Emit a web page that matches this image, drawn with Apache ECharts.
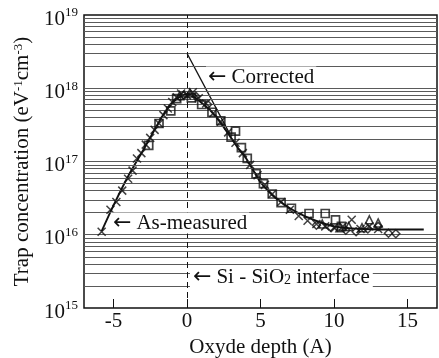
<!DOCTYPE html>
<html><head><meta charset="utf-8">
<script src="https://cdn.jsdelivr.net/npm/echarts@6/dist/echarts.min.js"></script>
<style>html,body{margin:0;padding:0;background:#fff}#c{width:439px;height:358px}</style>
</head><body><div id="c"></div>
<script>
// ---- data ----
var xTickValues = [-5, 0, 5, 10, 15];
var yGridValues = [2e15,3e15,4e15,5e15,6e15,7e15,8e15,9e15,1e16,
  2e16,3e16,4e16,5e16,6e16,7e16,8e16,9e16,1e17,
  2e17,3e17,4e17,5e17,6e17,7e17,8e17,9e17,1e18,
  2e18,3e18,4e18,5e18,6e18,7e18,8e18,9e18];
var fitX = [-5.8,-5,-4,-3,-2,-1.5,-1,-0.5,0,0.5,1,1.5,2,2.5,3,3.5,4,4.5,5,5.5,6,7,8,9,10,11,12,14,16.1];
var fitY = [1.12e16,2.5e16,6.3e16,1.4e17,3.2e17,4.7e17,6.3e17,7.6e17,8.3e17,7.6e17,6.3e17,5.2e17,4.0e17,2.95e17,2.1e17,1.5e17,1.12e17,7.6e16,5.2e16,4.0e16,3.2e16,2.3e16,1.8e16,1.5e16,1.3e16,1.23e16,1.2e16,1.18e16,1.18e16];
var corrX = [0, 2.9];
var corrY = [3.0e18, 2.4e17];
var crossX = [-5.8,-5.2,-4.8,-4.4,-4.0,-3.7,-3.4,-3.1,-2.8,-2.5,-2.2,-1.9,-1.6,-1.3,-1.0,-0.7,-0.4,0.0,0.4,0.8,1.3,1.8,2.3,2.8,3.3,3.8,4.3,4.8,5.3,5.8,6.4,7.0,7.6,8.2,8.8,9.4,10.0,10.6,11.2,11.8,12.4,13.0];
var crossY = [1.1e16,2.2e16,2.8e16,4.0e16,5.8e16,7.5e16,1.1e17,1.3e17,1.7e17,2.1e17,2.7e17,3.3e17,4.3e17,5.3e17,6.5e17,7.5e17,8.5e17,8.0e17,8.8e17,7.3e17,6.2e17,4.6e17,3.5e17,2.5e17,1.8e17,1.3e17,9.0e16,6.5e16,4.8e16,3.6e16,2.8e16,2.2e16,1.8e16,1.55e16,1.4e16,1.3e16,1.25e16,1.3e16,1.6e16,1.2e16,1.3e16,1.2e16];
var squareX = [-2.6,-1.9,-1.1,-0.7,0.3,1.0,1.7,2.3,3.0,3.3,3.7,4.1,4.7,5.2,5.8,6.4,7.1,8.3,9.4,10.1,10.5];
var squareY = [1.66e17,3.3e17,4.9e17,7.2e17,7.4e17,6.0e17,4.7e17,3.6e17,2.15e17,2.6e17,1.55e17,1.1e17,6.8e16,5.0e16,3.6e16,2.75e16,2.3e16,1.95e16,1.95e16,1.6e16,1.3e16];
var diamondX = [-0.2,0.6,1.4,8.8,9.8,10.8,11.5,12.3,13.0,13.7,14.2];
var diamondY = [8.0e17,7.8e17,6.0e17,1.35e16,1.25e16,1.15e16,1.1e16,1.2e16,1.3e16,1.05e16,1.03e16];
var triX = [-0.5,0.2,9.2,10.4,11.0,11.9,12.4,13.0];
var triY = [7.9e17,8.6e17,1.4e16,1.25e16,1.3e16,1.25e16,1.6e16,1.45e16];

function pairs(xs, ys){ return xs.map(function(x,i){ return [x, ys[i]]; }); }
var serif = "'Liberation Serif','DejaVu Serif',serif";
var ink = '#111';
var FS = 21;

var chart = echarts.init(document.getElementById('c'), null, {renderer:'canvas'});
var markerStyle = {color:'transparent', borderColor:ink, borderWidth:1.5};
var arrowRich = {a:{fontFamily:"'DejaVu Sans',sans-serif", fontSize:22, fill:ink, padding:[0,5,0,0]},
                 sub:{fontFamily:serif, fontSize:14, fill:ink, padding:[7,0,0,0]}};
chart.setOption({
  animation:false,
  backgroundColor:'#fff',
  grid:{left:84, top:15, right:2, bottom:50, outerBoundsMode:'none', containLabel:false,
        show:true, borderColor:ink, borderWidth:1.5, backgroundColor:'transparent'},
  xAxis:{type:'value', min:-7, max:17,
    axisLine:{show:false},
    axisTick:{show:true, inside:true, length:9, customValues:xTickValues, lineStyle:{color:ink, width:1}},
    axisLabel:{customValues:xTickValues, fontFamily:serif, fontSize:FS, color:ink, margin:3},
    splitLine:{show:false},
    name:'Oxyde depth (A)', nameLocation:'middle', nameGap:27,
    nameTextStyle:{fontFamily:serif, fontSize:FS, color:ink, verticalAlign:'top'}
  },
  yAxis:{type:'log', logBase:10, min:1e15, max:1e19,
    axisLine:{show:false}, axisTick:{show:false}, splitLine:{show:false},
    axisLabel:{margin:6, color:ink,
      formatter:function(v){ return '{b|10}{s|' + Math.round(Math.log10(v)) + '}'; },
      rich:{b:{fontFamily:serif, fontSize:FS, color:ink, padding:[8,0,0,0]},
            s:{fontFamily:serif, fontSize:13, color:ink, padding:[0,0,4,0]}}},
    name:'Trap concentration (eV{s|-1}cm{s|-3})', nameLocation:'middle', nameGap:42,
    nameTextStyle:{fontFamily:serif, fontSize:FS, color:ink,
      rich:{s:{fontFamily:serif, fontSize:13, color:ink, padding:[0,0,8,0]}}}
  },
  series:[
    {type:'line', data:[], silent:true, z:1,
     markLine:{silent:true, symbol:'none', animation:false, label:{show:false},
       lineStyle:{color:'#5a5a5a', width:1, type:'solid'},
       data:yGridValues.map(function(v){ return {yAxis:v}; })}},
    {type:'line', data:[], silent:true, z:2,
     markLine:{silent:true, symbol:'none', animation:false, label:{show:false},
       lineStyle:{color:ink, width:1, type:[6,4]},
       data:[{xAxis:0}]}},
    {type:'line', data:pairs(fitX, fitY), smooth:0.3, showSymbol:false, z:4,
     lineStyle:{color:ink, width:1.9}},
    {type:'line', data:pairs(corrX, corrY), showSymbol:false, z:4,
     lineStyle:{color:ink, width:1.3}},
    {type:'scatter', data:pairs(crossX, crossY), symbol:'path://M0,0L10,10M10,0L0,10', symbolSize:8, z:5,
     itemStyle:markerStyle},
    {type:'scatter', data:pairs(squareX, squareY), symbol:'rect', symbolSize:8, z:5,
     itemStyle:{color:'transparent', borderColor:ink, borderWidth:1.7}},
    {type:'scatter', data:pairs(diamondX, diamondY), symbol:'diamond', symbolSize:8, z:5,
     itemStyle:markerStyle},
    {type:'scatter', data:pairs(triX, triY), symbol:'triangle', symbolSize:8, z:5,
     itemStyle:markerStyle}
  ],
  graphic:[
    {type:'text', left:206, top:66, z:100, style:{text:'{a|\u2190}Corrected', rich:arrowRich, fontFamily:serif, fontSize:FS, fill:ink, backgroundColor:'#fff', lineHeight:21, padding:[0,2]}},
    {type:'text', left:111, top:212, z:100, style:{text:'{a|\u2190}As-measured', rich:arrowRich, fontFamily:serif, fontSize:FS, fill:ink, backgroundColor:'#fff', lineHeight:21, padding:[0,2]}},
    {type:'text', left:190, top:266, z:100, style:{text:'{a|\u2190}Si - SiO{sub|2} interface', rich:arrowRich, fontFamily:serif, fontSize:FS, fill:ink, backgroundColor:'#fff', lineHeight:22, padding:[0,3]}}
  ]
});
</script></body></html>
